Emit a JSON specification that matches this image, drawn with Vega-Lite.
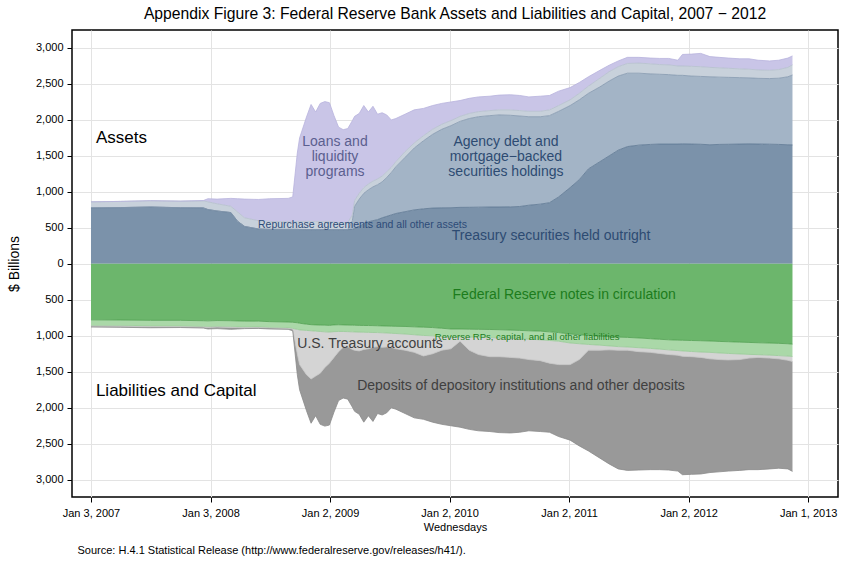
{
  "$schema": "https://vega.github.io/schema/vega-lite/v6.json",
  "width": 766,
  "height": 467,
  "autosize": {"type": "none"},
  "padding": {"left": 72, "top": 30, "right": 21, "bottom": 65},
  "background": "white",
  "title": {"text": "Appendix Figure 3: Federal Reserve Bank Assets and Liabilities and Capital, 2007 − 2012", "fontSize": 15.7, "fontWeight": "normal", "font": "Liberation Sans", "color": "black", "offset": 7, "anchor": "middle"},
  "config": {
    "view": {"stroke": "black", "strokeWidth": 1.5},
    "font": "Liberation Sans",
    "axis": {"labelFont": "Liberation Sans", "labelFontSize": 11, "labelColor": "black", "tickColor": "black", "tickSize": 5, "domain": false, "gridColor": "#e3e3e3", "gridWidth": 1, "titleFont": "Liberation Sans", "titleFontWeight": "normal", "titleColor": "black", "titleFontSize": 11}
  },
  "datasets": {
    "fed": [
      {"d":"2007-01-03","a1":778,"a2":0,"a3":84,"a4":0,"b1":-778,"b2":-80,"b3":-8,"b4":-12},
      {"d":"2007-04-04","a1":782,"a2":0,"a3":86,"a4":0,"b1":-780,"b2":-80,"b3":-8,"b4":-14},
      {"d":"2007-07-04","a1":790,"a2":0,"a3":88,"a4":0,"b1":-785,"b2":-81,"b3":-7,"b4":-15},
      {"d":"2007-10-03","a1":780,"a2":0,"a3":92,"a4":0,"b1":-785,"b2":-81,"b3":-8,"b4":-11},
      {"d":"2007-12-12","a1":778,"a2":0,"a3":97,"a4":5,"b1":-790,"b2":-82,"b3":-8,"b4":-12},
      {"d":"2007-12-26","a1":755,"a2":0,"a3":107,"a4":43,"b1":-792,"b2":-83,"b3":-9,"b4":-21},
      {"d":"2008-01-23","a1":735,"a2":0,"a3":100,"a4":65,"b1":-788,"b2":-82,"b3":-8,"b4":-22},
      {"d":"2008-03-05","a1":713,"a2":0,"a3":87,"a4":110,"b1":-790,"b2":-85,"b3":-8,"b4":-27},
      {"d":"2008-03-26","a1":590,"a2":0,"a3":130,"a4":185,"b1":-793,"b2":-85,"b3":-8,"b4":-19},
      {"d":"2008-04-16","a1":520,"a2":0,"a3":120,"a4":260,"b1":-795,"b2":-85,"b3":-8,"b4":-12},
      {"d":"2008-05-28","a1":485,"a2":0,"a3":115,"a4":295,"b1":-796,"b2":-82,"b3":-7,"b4":-12},
      {"d":"2008-07-02","a1":479,"a2":0,"a3":111,"a4":315,"b1":-803,"b2":-82,"b3":-7,"b4":-13},
      {"d":"2008-08-27","a1":479,"a2":0,"a3":106,"a4":325,"b1":-808,"b2":-84,"b3":-6,"b4":-12},
      {"d":"2008-09-10","a1":479,"a2":0,"a3":106,"a4":345,"b1":-812,"b2":-86,"b3":-7,"b4":-25},
      {"d":"2008-09-24","a1":479,"a2":0,"a3":111,"a4":950,"b1":-818,"b2":-92,"b3":-340,"b4":-290},
      {"d":"2008-10-01","a1":477,"a2":0,"a3":113,"a4":1160,"b1":-825,"b2":-93,"b3":-482,"b4":-350},
      {"d":"2008-10-22","a1":476,"a2":0,"a3":114,"a4":1450,"b1":-838,"b2":-87,"b3":-615,"b4":-500},
      {"d":"2008-11-05","a1":476,"a2":0,"a3":114,"a4":1625,"b1":-845,"b2":-85,"b3":-670,"b4":-615},
      {"d":"2008-11-19","a1":476,"a2":0,"a3":114,"a4":1520,"b1":-848,"b2":-87,"b3":-625,"b4":-550},
      {"d":"2008-12-03","a1":476,"a2":0,"a3":114,"a4":1640,"b1":-850,"b2":-90,"b3":-580,"b4":-710},
      {"d":"2008-12-17","a1":476,"a2":0,"a3":114,"a4":1665,"b1":-852,"b2":-93,"b3":-495,"b4":-815},
      {"d":"2008-12-31","a1":476,"a2":0,"a3":114,"a4":1650,"b1":-855,"b2":-93,"b3":-432,"b4":-860},
      {"d":"2009-01-14","a1":476,"a2":0,"a3":104,"a4":1480,"b1":-848,"b2":-94,"b3":-358,"b4":-760},
      {"d":"2009-01-28","a1":476,"a2":0,"a3":99,"a4":1325,"b1":-846,"b2":-94,"b3":-280,"b4":-680},
      {"d":"2009-02-11","a1":476,"a2":0,"a3":99,"a4":1290,"b1":-848,"b2":-92,"b3":-220,"b4":-705},
      {"d":"2009-02-25","a1":476,"a2":0,"a3":99,"a4":1305,"b1":-850,"b2":-92,"b3":-208,"b4":-730},
      {"d":"2009-03-11","a1":478,"a2":122,"a3":80,"a4":1310,"b1":-852,"b2":-93,"b3":-245,"b4":-800},
      {"d":"2009-03-18","a1":490,"a2":310,"a3":80,"a4":1170,"b1":-853,"b2":-93,"b3":-254,"b4":-850},
      {"d":"2009-04-01","a1":520,"a2":380,"a3":80,"a4":1110,"b1":-855,"b2":-93,"b3":-262,"b4":-880},
      {"d":"2009-04-15","a1":560,"a2":420,"a3":80,"a4":1140,"b1":-856,"b2":-94,"b3":-240,"b4":-1010},
      {"d":"2009-04-29","a1":585,"a2":445,"a3":80,"a4":1000,"b1":-857,"b2":-95,"b3":-228,"b4":-930},
      {"d":"2009-05-13","a1":600,"a2":470,"a3":80,"a4":1040,"b1":-858,"b2":-96,"b3":-206,"b4":-1030},
      {"d":"2009-05-27","a1":615,"a2":485,"a3":80,"a4":900,"b1":-860,"b2":-95,"b3":-195,"b4":-930},
      {"d":"2009-06-10","a1":640,"a2":500,"a3":80,"a4":880,"b1":-862,"b2":-96,"b3":-202,"b4":-940},
      {"d":"2009-06-24","a1":660,"a2":540,"a3":80,"a4":790,"b1":-864,"b2":-96,"b3":-195,"b4":-915},
      {"d":"2009-07-08","a1":680,"a2":590,"a3":70,"a4":660,"b1":-866,"b2":-99,"b3":-195,"b4":-840},
      {"d":"2009-07-22","a1":700,"a2":650,"a3":70,"a4":600,"b1":-868,"b2":-100,"b3":-212,"b4":-840},
      {"d":"2009-08-19","a1":725,"a2":755,"a3":80,"a4":520,"b1":-870,"b2":-105,"b3":-225,"b4":-880},
      {"d":"2009-09-16","a1":750,"a2":860,"a3":70,"a4":460,"b1":-875,"b2":-110,"b3":-245,"b4":-910},
      {"d":"2009-10-14","a1":765,"a2":945,"a3":70,"a4":380,"b1":-880,"b2":-115,"b3":-285,"b4":-880},
      {"d":"2009-11-11","a1":775,"a2":1025,"a3":70,"a4":330,"b1":-885,"b2":-115,"b3":-250,"b4":-950},
      {"d":"2009-12-09","a1":778,"a2":1092,"a3":70,"a4":290,"b1":-895,"b2":-115,"b3":-190,"b4":-1030},
      {"d":"2010-01-06","a1":780,"a2":1140,"a3":70,"a4":260,"b1":-905,"b2":-110,"b3":-165,"b4":-1070},
      {"d":"2010-02-03","a1":785,"a2":1195,"a3":70,"a4":220,"b1":-905,"b2":-110,"b3":-60,"b4":-1195},
      {"d":"2010-03-03","a1":786,"a2":1234,"a3":70,"a4":210,"b1":-908,"b2":-110,"b3":-182,"b4":-1100},
      {"d":"2010-03-31","a1":788,"a2":1257,"a3":70,"a4":205,"b1":-910,"b2":-110,"b3":-240,"b4":-1060},
      {"d":"2010-05-05","a1":790,"a2":1270,"a3":70,"a4":200,"b1":-912,"b2":-113,"b3":-265,"b4":-1040},
      {"d":"2010-06-02","a1":790,"a2":1280,"a3":70,"a4":205,"b1":-915,"b2":-115,"b3":-260,"b4":-1055},
      {"d":"2010-07-07","a1":792,"a2":1273,"a3":75,"a4":210,"b1":-920,"b2":-115,"b3":-265,"b4":-1050},
      {"d":"2010-08-04","a1":797,"a2":1258,"a3":75,"a4":210,"b1":-925,"b2":-115,"b3":-270,"b4":-1030},
      {"d":"2010-09-01","a1":815,"a2":1230,"a3":75,"a4":200,"b1":-930,"b2":-118,"b3":-282,"b4":-990},
      {"d":"2010-10-06","a1":830,"a2":1215,"a3":75,"a4":210,"b1":-935,"b2":-120,"b3":-290,"b4":-985},
      {"d":"2010-11-03","a1":850,"a2":1210,"a3":80,"a4":200,"b1":-945,"b2":-120,"b3":-315,"b4":-960},
      {"d":"2010-12-01","a1":930,"a2":1190,"a3":80,"a4":200,"b1":-955,"b2":-120,"b3":-325,"b4":-1000},
      {"d":"2011-01-05","a1":1060,"a2":1140,"a3":80,"a4":170,"b1":-975,"b2":-125,"b3":-300,"b4":-1050},
      {"d":"2011-02-02","a1":1170,"a2":1110,"a3":90,"a4":150,"b1":-985,"b2":-125,"b3":-220,"b4":-1200},
      {"d":"2011-03-02","a1":1320,"a2":1050,"a3":100,"a4":130,"b1":-995,"b2":-125,"b3":-80,"b4":-1400},
      {"d":"2011-04-06","a1":1420,"a2":1040,"a3":120,"a4":110,"b1":-1005,"b2":-125,"b3":-70,"b4":-1500},
      {"d":"2011-05-04","a1":1500,"a2":1040,"a3":130,"a4":90,"b1":-1012,"b2":-128,"b3":-55,"b4":-1585},
      {"d":"2011-06-01","a1":1580,"a2":1030,"a3":130,"a4":80,"b1":-1018,"b2":-132,"b3":-50,"b4":-1650},
      {"d":"2011-06-29","a1":1630,"a2":1020,"a3":135,"a4":85,"b1":-1022,"b2":-133,"b3":-45,"b4":-1670},
      {"d":"2011-08-03","a1":1650,"a2":1000,"a3":140,"a4":80,"b1":-1030,"b2":-135,"b3":-55,"b4":-1645},
      {"d":"2011-09-07","a1":1660,"a2":980,"a3":140,"a4":80,"b1":-1040,"b2":-135,"b3":-55,"b4":-1630},
      {"d":"2011-10-05","a1":1665,"a2":970,"a3":135,"a4":85,"b1":-1048,"b2":-137,"b3":-60,"b4":-1615},
      {"d":"2011-11-02","a1":1665,"a2":965,"a3":135,"a4":90,"b1":-1055,"b2":-140,"b3":-65,"b4":-1605},
      {"d":"2011-11-30","a1":1665,"a2":955,"a3":130,"a4":80,"b1":-1060,"b2":-145,"b3":-65,"b4":-1610},
      {"d":"2011-12-14","a1":1667,"a2":953,"a3":130,"a4":160,"b1":-1062,"b2":-148,"b3":-75,"b4":-1645},
      {"d":"2012-01-11","a1":1665,"a2":945,"a3":135,"a4":170,"b1":-1065,"b2":-153,"b3":-72,"b4":-1635},
      {"d":"2012-02-08","a1":1662,"a2":943,"a3":135,"a4":185,"b1":-1068,"b2":-157,"b3":-75,"b4":-1620},
      {"d":"2012-03-07","a1":1655,"a2":945,"a3":130,"a4":150,"b1":-1072,"b2":-158,"b3":-90,"b4":-1580},
      {"d":"2012-04-04","a1":1660,"a2":935,"a3":130,"a4":145,"b1":-1078,"b2":-160,"b3":-92,"b4":-1560},
      {"d":"2012-05-02","a1":1662,"a2":930,"a3":126,"a4":142,"b1":-1082,"b2":-163,"b3":-90,"b4":-1545},
      {"d":"2012-06-06","a1":1665,"a2":923,"a3":122,"a4":140,"b1":-1088,"b2":-164,"b3":-78,"b4":-1540},
      {"d":"2012-07-04","a1":1667,"a2":918,"a3":120,"a4":145,"b1":-1092,"b2":-166,"b3":-52,"b4":-1550},
      {"d":"2012-08-01","a1":1665,"a2":913,"a3":117,"a4":135,"b1":-1096,"b2":-166,"b3":-38,"b4":-1560},
      {"d":"2012-09-05","a1":1663,"a2":912,"a3":115,"a4":130,"b1":-1100,"b2":-168,"b3":-42,"b4":-1540},
      {"d":"2012-10-03","a1":1660,"a2":920,"a3":120,"a4":130,"b1":-1105,"b2":-170,"b3":-45,"b4":-1520},
      {"d":"2012-10-31","a1":1655,"a2":945,"a3":130,"a4":130,"b1":-1110,"b2":-172,"b3":-58,"b4":-1510},
      {"d":"2012-11-14","a1":1653,"a2":972,"a3":140,"a4":125,"b1":-1116,"b2":-171,"b3":-70,"b4":-1527}
    ]
  },
  "resolve": {"axis": {"x": "independent", "y": "independent"}},
  "layer": [
    {
      "data": {"name": "fed"},
      "transform": [
        {"fold": ["a1","a2","a3","a4","b1","b2","b3","b4"], "as": ["k","v"]},
        {"stack": "v", "groupby": ["d"], "sort": [{"field": "k", "order": "ascending"}], "as": ["v0","v1"]}
      ],
      "mark": {"type": "area", "interpolate": "linear"},
      "encoding": {
        "x": {"field": "d", "type": "temporal",
          "scale": {"type": "utc", "nice": false, "domain": [{"year":2006,"month":11,"date":6,"utc":true},{"year":2013,"month":4,"date":2,"utc":true}]},
          "axis": {"title": "Wednesdays", "format": "%b %-d, %Y", "labelPadding": 5, "titlePadding": 3, "grid": true,
            "values": [{"year":2007,"month":1,"date":3,"utc":true},{"year":2008,"month":1,"date":3,"utc":true},{"year":2009,"month":1,"date":2,"utc":true},{"year":2010,"month":1,"date":2,"utc":true},{"year":2011,"month":1,"date":2,"utc":true},{"year":2012,"month":1,"date":2,"utc":true},{"year":2013,"month":1,"date":1,"utc":true}]}},
        "y": {"field": "v1", "type": "quantitative",
          "scale": {"domain": [-3240, 3250], "nice": false, "zero": false},
          "axis": {"orient": "left", "title": "$ Billions", "titleFontSize": 14, "titlePadding": 14, "labelPadding": 4, "grid": true,
            "values": [-3000,-2500,-2000,-1500,-1000,-500,0,500,1000,1500,2000,2500,3000],
            "labelExpr": "format(abs(datum.value), ',')"}},
        "y2": {"field": "v0"},
        "color": {"field": "k", "type": "nominal", "legend": null,
          "scale": {"domain": ["a1","a2","a3","a4","b1","b2","b3","b4"],
            "range": ["#7b92aa","#a3b4c6","#c8d1db","#c9c5e7","#6cb66c","#aad8a8","#d4d4d4","#999999"]}}
      }
    },
    {
      "data": {"name": "fed"},
      "transform": [
        {"fold": ["a1","a2","a3","a4","b1","b2","b3","b4"], "as": ["k","v"]},
        {"stack": "v", "groupby": ["d"], "sort": [{"field": "k", "order": "ascending"}], "as": ["v0","v1"]}
      ],
      "mark": {"type": "line", "strokeWidth": 0.8, "interpolate": "linear"},
      "encoding": {
        "x": {"field": "d", "type": "temporal", "scale": {"type": "utc", "nice": false, "domain": [{"year":2006,"month":11,"date":6,"utc":true},{"year":2013,"month":4,"date":2,"utc":true}]}, "axis": null},
        "y": {"field": "v1", "type": "quantitative", "scale": {"domain": [-3240, 3250], "nice": false, "zero": false}, "axis": null},
        "stroke": {"field": "k", "type": "nominal", "legend": null,
          "scale": {"domain": ["a1","a2","a3","a4","b1","b2","b3","b4"],
            "range": ["#5b7591","#8397ad","#b4bfcc","#b7b2dd","#4e9e4e","#96c994","#c6c6c6","#8a8a8a"]}}
      }
    },
    {
      "data": {"values": [{"d": "2007-01-18", "v": 1750, "label": "Assets"}, {"d": "2007-01-18", "v": -1764, "label": "Liabilities and Capital"}]},
      "mark": {"type": "text", "align": "left", "baseline": "middle", "fontSize": 17, "color": "black", "font": "Liberation Sans"},
      "encoding": {
        "x": {"field": "d", "type": "temporal", "scale": {"type": "utc", "nice": false, "domain": [{"year":2006,"month":11,"date":6,"utc":true},{"year":2013,"month":4,"date":2,"utc":true}]},
          "axis": {"orient": "bottom", "labels": false, "ticks": false, "domain": false, "grid": false, "title": "Source: H.4.1 Statistical Release (http://www.federalreserve.gov/releases/h41/).", "titleFontSize": 11, "titleAnchor": "start", "titleAlign": "left", "titleBaseline": "alphabetic", "titleX": 5, "titleY": 56}},
        "y": {"field": "v", "type": "quantitative", "scale": {"domain": [-3240, 3250], "nice": false, "zero": false}, "axis": null},
        "text": {"field": "label"}
      }
    },
    {
      "data": {"values": [{"d": "2009-01-17", "v": 1695, "label": ["Loans and", "liquidity", "programs"]}]},
      "mark": {"type": "text", "align": "center", "baseline": "middle", "fontSize": 14, "lineHeight": 15, "color": "#5b5f8f", "font": "Liberation Sans"},
      "encoding": {
        "x": {"field": "d", "type": "temporal", "scale": {"type": "utc", "nice": false, "domain": [{"year":2006,"month":11,"date":6,"utc":true},{"year":2013,"month":4,"date":2,"utc":true}]}, "axis": null},
        "y": {"field": "v", "type": "quantitative", "scale": {"domain": [-3240, 3250], "nice": false, "zero": false}, "axis": null},
        "text": {"field": "label"}
      }
    },
    {
      "data": {"values": [{"d": "2010-06-23", "v": 1695, "label": ["Agency debt and", "mortgage−backed", "securities holdings"]}, {"d": "2010-11-08", "v": 389, "label": "Treasury securities held outright"}]},
      "mark": {"type": "text", "align": "center", "baseline": "middle", "fontSize": 14, "lineHeight": 15, "color": "#2d4b72", "font": "Liberation Sans"},
      "encoding": {
        "x": {"field": "d", "type": "temporal", "scale": {"type": "utc", "nice": false, "domain": [{"year":2006,"month":11,"date":6,"utc":true},{"year":2013,"month":4,"date":2,"utc":true}]}, "axis": null},
        "y": {"field": "v", "type": "quantitative", "scale": {"domain": [-3240, 3250], "nice": false, "zero": false}, "axis": null},
        "text": {"field": "label"}
      }
    },
    {
      "data": {"values": [{"d": "2008-05-27", "v": 542, "label": "Repurchase agreements and all other assets"}]},
      "mark": {"type": "text", "align": "left", "baseline": "middle", "fontSize": 10.5, "color": "#2d4b78", "font": "Liberation Sans"},
      "encoding": {
        "x": {"field": "d", "type": "temporal", "scale": {"type": "utc", "nice": false, "domain": [{"year":2006,"month":11,"date":6,"utc":true},{"year":2013,"month":4,"date":2,"utc":true}]}, "axis": null},
        "y": {"field": "v", "type": "quantitative", "scale": {"domain": [-3240, 3250], "nice": false, "zero": false}, "axis": null},
        "text": {"field": "label"}
      }
    },
    {
      "data": {"values": [{"d": "2010-12-18", "v": -431, "label": "Federal Reserve notes in circulation"}]},
      "mark": {"type": "text", "align": "center", "baseline": "middle", "fontSize": 14, "color": "#1c7c1c", "font": "Liberation Sans"},
      "encoding": {
        "x": {"field": "d", "type": "temporal", "scale": {"type": "utc", "nice": false, "domain": [{"year":2006,"month":11,"date":6,"utc":true},{"year":2013,"month":4,"date":2,"utc":true}]}, "axis": null},
        "y": {"field": "v", "type": "quantitative", "scale": {"domain": [-3240, 3250], "nice": false, "zero": false}, "axis": null},
        "text": {"field": "label"}
      }
    },
    {
      "data": {"values": [{"d": "2010-08-27", "v": -1014, "label": "Reverse RPs, capital, and all other liabilities"}]},
      "mark": {"type": "text", "align": "center", "baseline": "middle", "fontSize": 9.5, "color": "#1c7c1c", "font": "Liberation Sans"},
      "encoding": {
        "x": {"field": "d", "type": "temporal", "scale": {"type": "utc", "nice": false, "domain": [{"year":2006,"month":11,"date":6,"utc":true},{"year":2013,"month":4,"date":2,"utc":true}]}, "axis": null},
        "y": {"field": "v", "type": "quantitative", "scale": {"domain": [-3240, 3250], "nice": false, "zero": false}, "axis": null},
        "text": {"field": "label"}
      }
    },
    {
      "data": {"values": [{"d": "2009-05-04", "v": -1111, "label": "U.S. Treasury accounts"}, {"d": "2010-08-08", "v": -1695, "label": "Deposits of depository institutions and other deposits"}]},
      "mark": {"type": "text", "align": "center", "baseline": "middle", "fontSize": 14, "color": "#404040", "font": "Liberation Sans"},
      "encoding": {
        "x": {"field": "d", "type": "temporal", "scale": {"type": "utc", "nice": false, "domain": [{"year":2006,"month":11,"date":6,"utc":true},{"year":2013,"month":4,"date":2,"utc":true}]}, "axis": null},
        "y": {"field": "v", "type": "quantitative", "scale": {"domain": [-3240, 3250], "nice": false, "zero": false}, "axis": null},
        "text": {"field": "label"}
      }
    }
  ]
}
